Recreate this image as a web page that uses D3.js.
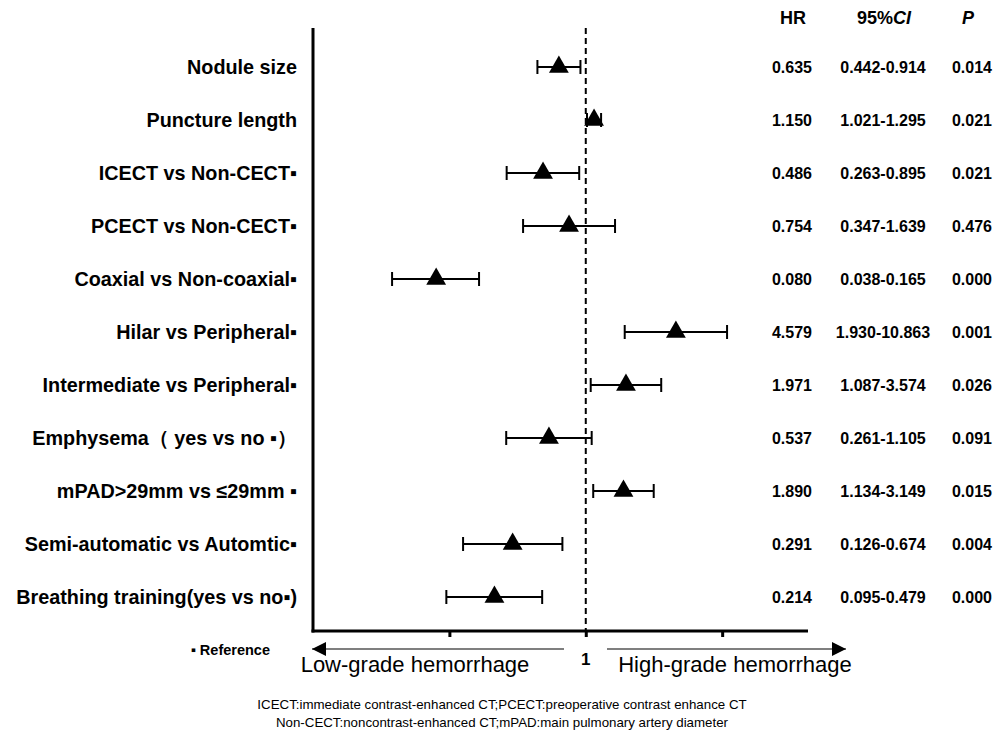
<!DOCTYPE html>
<html>
<head>
<meta charset="utf-8">
<script src="https://cdn.jsdelivr.net/npm/d3@7"></script>
<style>
  body { margin: 0; background: #fff; }
  svg text { font-family: Arial, "Liberation Sans", sans-serif; fill: #000; }
</style>
</head>
<body>
<div id="chart"></div>
<script>
// rows, top to bottom
var labels = [
    "Nodule size",
    "Puncture length",
    "ICECT vs Non-CECT\u25aa",
    "PCECT vs Non-CECT\u25aa",
    "Coaxial vs Non-coaxial\u25aa",
    "Hilar vs Peripheral\u25aa",
    "Intermediate vs Peripheral\u25aa",
    "Emphysema\uff08 yes vs no \u25aa\uff09",
    "mPAD>29mm vs \u226429mm \u25aa",
    "Semi-automatic vs Automtic\u25aa",
    "Breathing training(yes vs no\u25aa)"
];
var hr = [0.635, 1.150, 0.486, 0.754, 0.080, 4.579, 1.971, 0.537, 1.890, 0.291, 0.214];
var ciLow = [0.442, 1.021, 0.263, 0.347, 0.038, 1.930, 1.087, 0.261, 1.134, 0.126, 0.095];
var ciHigh = [0.914, 1.295, 0.895, 1.639, 0.165, 10.863, 3.574, 1.105, 3.149, 0.674, 0.479];
var hrText = ["0.635", "1.150", "0.486", "0.754", "0.080", "4.579", "1.971", "0.537", "1.890", "0.291", "0.214"];
var ciText = ["0.442-0.914", "1.021-1.295", "0.263-0.895", "0.347-1.639", "0.038-0.165", "1.930-10.863",
    "1.087-3.574", "0.261-1.105", "1.134-3.149", "0.126-0.674", "0.095-0.479"];
var pText = ["0.014", "0.021", "0.021", "0.476", "0.000", "0.001", "0.026", "0.091", "0.015", "0.004", "0.000"];
var xTicks = [0.1, 1, 10];

var data = labels.map(function(l, i) {
    return { label: l, hr: hr[i], lo: ciLow[i], hi: ciHigh[i], hrT: hrText[i], ciT: ciText[i], pT: pText[i] };
});

var W = 1005, H = 739;
var svg = d3.select("#chart").append("svg")
    .attr("width", W)
    .attr("height", H);

var x = d3.scaleLog().domain([0.01, 42.6]).range([313, 808]);
var y = d3.scalePoint().domain(labels).range([67, 597]);

var axisY = 631;

// y axis line
svg.append("line")
    .attr("x1", 313).attr("x2", 313)
    .attr("y1", 28).attr("y2", axisY + 1.5)
    .attr("stroke", "#000").attr("stroke-width", 3);

// x axis, ticks only (no labels except the "1")
var xAxis = svg.append("g")
    .attr("transform", "translate(0," + axisY + ")")
    .call(d3.axisBottom(x).tickValues(xTicks).tickSize(6).tickFormat(""));
xAxis.select(".domain").attr("stroke-width", 3).attr("d", "M311.5,0H808");
xAxis.selectAll(".tick line").attr("stroke-width", 3);

// reference line at 1
svg.append("line")
    .attr("x1", x(1)).attr("x2", x(1))
    .attr("y1", 28).attr("y2", axisY)
    .attr("stroke", "#000").attr("stroke-width", 2)
    .attr("stroke-dasharray", "6,4");

svg.append("text")
    .attr("x", x(1)).attr("y", 665)
    .attr("text-anchor", "middle")
    .style("font-size", "17px").style("font-weight", "bold")
    .text("1");

// error bars
var rows = svg.selectAll(".row").data(data).enter().append("g")
    .attr("class", "row")
    .attr("transform", function(d) { return "translate(0," + y(d.label) + ")"; });

rows.append("line")
    .attr("x1", function(d) { return x(d.lo); })
    .attr("x2", function(d) { return x(d.hi); })
    .attr("stroke", "#000").attr("stroke-width", 2);
rows.append("line")
    .attr("x1", function(d) { return x(d.lo); })
    .attr("x2", function(d) { return x(d.lo); })
    .attr("y1", -7).attr("y2", 7)
    .attr("stroke", "#000").attr("stroke-width", 2);
rows.append("line")
    .attr("x1", function(d) { return x(d.hi); })
    .attr("x2", function(d) { return x(d.hi); })
    .attr("y1", -7).attr("y2", 7)
    .attr("stroke", "#000").attr("stroke-width", 2);

rows.append("path")
    .attr("d", d3.symbol().type(d3.symbolTriangle).size(170))
    .attr("transform", function(d) { return "translate(" + x(d.hr) + ",0)"; })
    .attr("fill", "#000");

// row labels
rows.append("text")
    .attr("x", 297).attr("dy", "0.35em")
    .attr("text-anchor", "end")
    .style("font-size", "19.8px").style("font-weight", "bold")
    .text(function(d) { return d.label; });

// table columns
var cols = [
    { x: 792, key: "hrT" },
    { x: 883, key: "ciT" },
    { x: 972, key: "pT" }
];
cols.forEach(function(c) {
    rows.append("text")
        .attr("x", c.x).attr("dy", "0.35em")
        .attr("text-anchor", "middle")
        .style("font-size", "16px").style("font-weight", "bold")
        .text(function(d) { return d[c.key]; });
});

var head = svg.append("g").style("font-size", "18px").style("font-weight", "bold");
head.append("text").attr("x", 793).attr("y", 24).attr("text-anchor", "middle").text("HR");
var ci = head.append("text").attr("x", 884).attr("y", 24).attr("text-anchor", "middle");
ci.append("tspan").text("95%");
ci.append("tspan").style("font-style", "italic").text("CI");
head.append("text").attr("x", 968).attr("y", 24).attr("text-anchor", "middle")
    .style("font-style", "italic").text("P");

// direction arrows
svg.append("defs").append("marker")
    .attr("id", "arr")
    .attr("viewBox", "0 0 10 10")
    .attr("refX", 10).attr("refY", 5)
    .attr("markerWidth", 20).attr("markerHeight", 14)
    .attr("markerUnits", "userSpaceOnUse")
    .attr("orient", "auto")
    .append("path").attr("d", "M0,0L10,5L0,10Z").attr("fill", "#000");

svg.append("line")
    .attr("x1", 564).attr("x2", 312).attr("y1", 649).attr("y2", 649)
    .attr("stroke", "#000").attr("stroke-width", 1.2)
    .attr("marker-end", "url(#arr)");
svg.append("line")
    .attr("x1", 607).attr("x2", 846).attr("y1", 649).attr("y2", 649)
    .attr("stroke", "#000").attr("stroke-width", 1.2)
    .attr("marker-end", "url(#arr)");

svg.append("text")
    .attr("x", 415).attr("y", 672).attr("text-anchor", "middle")
    .style("font-size", "22px")
    .text("Low-grade hemorrhage");
svg.append("text")
    .attr("x", 735).attr("y", 672).attr("text-anchor", "middle")
    .style("font-size", "22px")
    .text("High-grade hemorrhage");

svg.append("text")
    .attr("x", 270).attr("y", 655).attr("text-anchor", "end")
    .style("font-size", "14.5px").style("font-weight", "bold")
    .text("\u25aa Reference");

// footnote
svg.append("text")
    .attr("x", 502).attr("y", 709).attr("text-anchor", "middle")
    .style("font-size", "13.3px")
    .text("ICECT:immediate contrast-enhanced CT;PCECT:preoperative contrast enhance CT");
svg.append("text")
    .attr("x", 502).attr("y", 727).attr("text-anchor", "middle")
    .style("font-size", "13.3px")
    .text("Non-CECT:noncontrast-enhanced CT;mPAD:main pulmonary artery diameter");
</script>
</body>
</html>
